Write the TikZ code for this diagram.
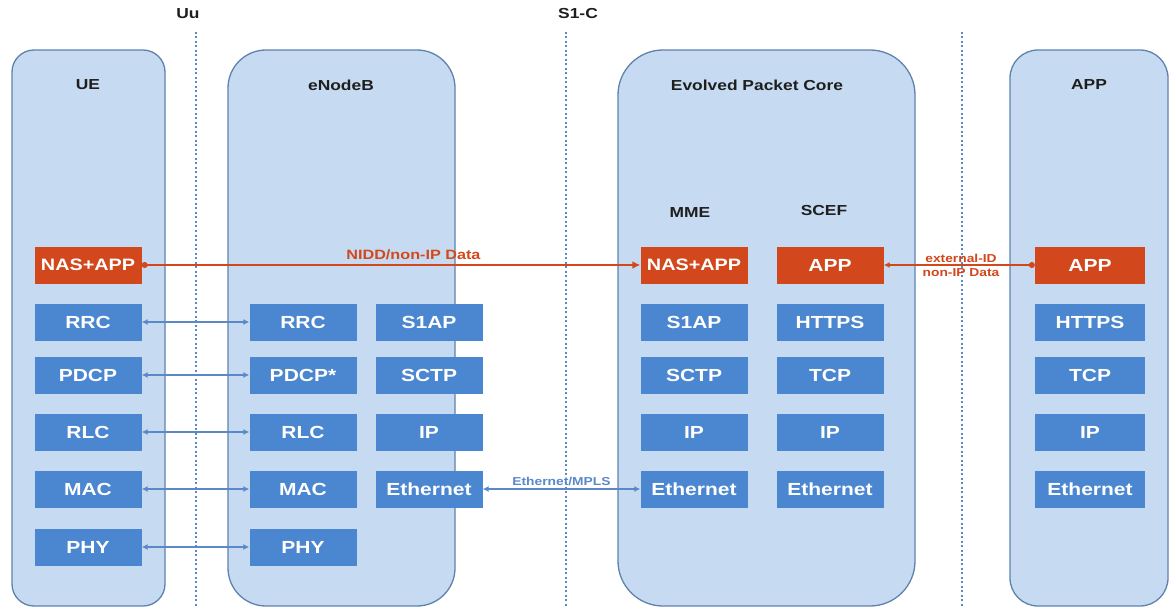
\documentclass[tikz,border=0pt]{standalone}
\usepackage{fontspec}
\setmainfont{Liberation Sans}
\usetikzlibrary{arrows.meta}
\definecolor{contf}{HTML}{C6DBF1}
\definecolor{contb}{HTML}{5F82AE}
\definecolor{layb}{HTML}{4B86D0}
\definecolor{nasr}{HTML}{D2481C}
\definecolor{dotb}{HTML}{5B88C8}
\definecolor{txtk}{HTML}{1E1E1E}
\newfontfamily\labfont[FakeStretch=1.2]{Liberation Sans Bold}
\tikzset{
  cont/.style={draw=contb, fill=contf, line width=1.3pt},
  lay/.style={rectangle, fill=layb, text=white, minimum width=107pt, minimum height=37pt, inner sep=0pt,
    font=\labfont\fontsize{17.5}{19}\selectfont},
  nas/.style={lay, fill=nasr},
  nasw/.style={nas, font=\labfont\fontsize{16.5}{18}\selectfont},
  ttl/.style={text=txtk, font=\labfont\fontsize{14.5}{16}\selectfont},
  sep/.style={draw=dotb, line width=1.2pt, dash pattern=on 2pt off 2.5pt},
  barr/.style={draw=dotb, line width=1.6pt, {Latex[length=6pt,width=6pt]}-{Latex[length=6pt,width=6pt]}},
  rarr/.style={draw=nasr, line width=1.8pt, {Circle[length=6pt]}-{Latex[length=8pt,width=8pt]}},
  earr/.style={draw=nasr, line width=1.6pt, {Latex[length=6pt,width=6pt]}-{Circle[length=6pt]}},
}
\begin{document}
\begin{tikzpicture}[x=1pt,y=-1pt]
\useasboundingbox (0,0) rectangle (1176,607);
\fill[white] (0,0) rectangle (1176,607);
% containers
\draw[cont, rounded corners=22pt] (12,50) rectangle (165,606);
\draw[cont, rounded corners=38pt] (228,50) rectangle (455,606);
\draw[cont, rounded corners=45pt] (618,50) rectangle (915,606);
\draw[cont, rounded corners=28pt] (1010,50) rectangle (1168,606);
% separators
\coordinate (uutop) at (196,32); \coordinate (uubot) at (196,607);
\coordinate (s1top) at (566,32); \coordinate (s1bot) at (566,607);
\coordinate (extop) at (962,32); \coordinate (exbot) at (962,607);
\draw[sep] (uutop) -- (uubot);
\draw[sep] (s1top) -- (s1bot);
\draw[sep] (extop) -- (exbot);
\node[ttl] (uu) at (188,14) {Uu};
\node[ttl] (s1c) at (578,14) {S1-C};
% titles
\node[ttl] (tue) at (88,85) {UE};
\node[ttl] (tenb) at (341,85) {eNodeB};
\node[ttl] (tepc) at (757,85) {Evolved Packet Core};
\node[ttl] (tapp) at (1089,85) {APP};
\node[ttl] (tmme) at (690,213) {MME};
\node[ttl] (tscef) at (824,211) {SCEF};
% UE
\node[nasw] (uenas) at (88,265) {NAS+APP};
\node[lay] (uerrc) at (88,322) {RRC};
\node[lay] (uepdcp) at (88,375) {PDCP};
\node[lay] (uerlc) at (88,432) {RLC};
\node[lay] (uemac) at (88,489) {MAC};
\node[lay] (uephy) at (88,547) {PHY};
% eNodeB
\node[lay] (enrrc) at (303,322) {RRC};
\node[lay] (enpdcp) at (303,375) {PDCP*};
\node[lay] (enrlc) at (303,432) {RLC};
\node[lay] (enmac) at (303,489) {MAC};
\node[lay] (enphy) at (303,547) {PHY};
\node[lay] (ens1ap) at (429,322) {S1AP};
\node[lay] (ensctp) at (429,375) {SCTP};
\node[lay] (enip) at (429,432) {IP};
\node[lay] (eneth) at (429,489) {Ethernet};
% EPC MME
\node[nasw] (mmenas) at (694,265) {NAS+APP};
\node[lay] (mmes1ap) at (694,322) {S1AP};
\node[lay] (mmesctp) at (694,375) {SCTP};
\node[lay] (mmeip) at (694,432) {IP};
\node[lay] (mmeeth) at (694,489) {Ethernet};
% EPC SCEF
\node[nas] (scefapp) at (830,265) {APP};
\node[lay] (scefhttps) at (830,322) {HTTPS};
\node[lay] (sceftcp) at (830,375) {TCP};
\node[lay] (scefip) at (830,432) {IP};
\node[lay] (scefeth) at (830,489) {Ethernet};
% APP
\node[nas, minimum width=110pt] (appapp) at (1090,265) {APP};
\node[lay, minimum width=110pt] (apphttps) at (1090,322) {HTTPS};
\node[lay, minimum width=110pt] (apptcp) at (1090,375) {TCP};
\node[lay, minimum width=110pt] (appip) at (1090,432) {IP};
\node[lay, minimum width=110pt] (appeth) at (1090,489) {Ethernet};
% connectors
\draw[barr] (uerrc.east) -- (enrrc.west);
\draw[barr] (uepdcp.east) -- (enpdcp.west);
\draw[barr] (uerlc.east) -- (enrlc.west);
\draw[barr] (uemac.east) -- (enmac.west);
\draw[barr] (uephy.east) -- (enphy.west);
\draw[barr] (eneth.east) -- node[above=0pt, inner sep=2pt, text=dotb, font=\labfont\fontsize{11.5}{12}\selectfont] {Ethernet/MPLS} (mmeeth.west);
\draw[rarr] (uenas.east) -- node[pos=0.545, above=1pt, text=nasr, font=\labfont\fontsize{13.5}{15}\selectfont] {NIDD/non-IP Data} (mmenas.west);
\draw[earr] (scefapp.east) -- (appapp.west);
\node[text=nasr, font=\labfont\fontsize{11.5}{14}\selectfont, align=center, inner sep=0pt] (extlab) at (961,265) {external-ID\\non-IP Data};
\end{tikzpicture}
\end{document}
